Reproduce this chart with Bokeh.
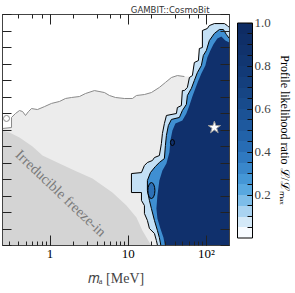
import numpy as np
from bokeh.plotting import figure
from bokeh.models import (Range1d, LogAxis, LinearAxis, FixedTicker, ColorBar,
                          LinearColorMapper, Title, Label, LogTicker, PrintfTickFormatter)
from bokeh.embed import file_html
from bokeh.resources import INLINE

# ---------------- data (x in log10(m_a/MeV), y in plot units) ----------------
# boundary of the excluded (light grey) region
excl_logm = [-0.62, -0.607, -0.492, -0.492, -0.441, -0.390, -0.351, -0.313, -0.275, -0.236,
             -0.160, -0.070, 0.019, 0.121, 0.198, 0.275, 0.377, 0.453, 0.568, 0.696,
             0.760, 0.837, 0.951, 1.054, 1.105, 1.207, 1.296, 1.398, 1.475, 1.552,
             1.628, 1.718]
excl_y = [7.09, 7.09, 7.15, 7.76, 8.00, 8.18, 8.12, 7.88, 8.12, 8.30,
          8.24, 8.42, 8.61, 8.73, 8.91, 8.97, 9.03, 9.21, 9.39, 9.27,
          9.09, 8.97, 8.91, 8.91, 9.09, 9.15, 9.27, 9.58, 9.88, 10.18,
          10.30, 10.24]

# irreducible freeze-in region boundary
fi_logm = [-0.62, -0.517, -0.390, -0.223, -0.096, 0.121, 0.313, 0.543, 0.798, 0.977,
           1.105, 1.181, 1.271, 1.296]
fi_y = [6.97, 6.85, 6.55, 6.00, 5.45, 4.97, 4.55, 4.06, 3.21, 2.42,
        1.70, 0.91, 0.18, 0.00]

# profile-likelihood contours (outer, inner, core)
outer_logm = [1.398, 1.360, 1.335, 1.271, 1.245, 1.207, 1.207, 1.169, 1.169, 1.041,
              1.041, 1.169, 1.207, 1.245, 1.309, 1.335, 1.398, 1.424, 1.437, 1.462,
              1.488, 1.616, 1.628, 1.679, 1.692, 1.718, 1.756, 1.782, 1.820, 1.845,
              1.897, 1.909, 1.948, 1.948, 2.011, 2.037, 2.101, 2.229, 2.267, 2.292,
              2.33, 2.33]
outer_y = [-0.5, 0.30, 0.73, 1.03, 1.52, 1.94, 2.42, 2.73, 3.21, 3.21,
           4.36, 4.42, 4.85, 5.03, 5.15, 5.33, 5.45, 6.18, 6.79, 7.39,
           7.88, 8.00, 8.36, 8.48, 9.39, 9.39, 9.58, 10.18, 10.30, 11.09,
           11.21, 11.94, 12.00, 13.03, 13.15, 13.33, 13.45, 13.45, 13.33, 13.21,
           13.15, -0.5]

inner_logm = [1.437, 1.398, 1.373, 1.335, 1.296, 1.271, 1.245, 1.245, 1.284, 1.347,
              1.398, 1.462, 1.475, 1.488, 1.513, 1.552, 1.654, 1.692, 1.743, 1.756,
              1.807, 1.845, 1.884, 1.935, 1.960, 1.999, 2.037, 2.101, 2.165, 2.216,
              2.254, 2.292, 2.33, 2.33]
inner_y = [-0.5, 0.48, 0.91, 1.52, 2.24, 2.73, 3.33, 3.94, 4.42, 4.79,
           5.03, 5.27, 6.06, 6.67, 7.27, 7.64, 7.76, 8.18, 8.55, 9.09,
           9.52, 10.00, 10.48, 10.91, 11.52, 11.82, 12.42, 12.85, 13.09, 13.09,
           12.79, 12.55, 12.50, -0.5]

core_logm = [1.488, 1.450, 1.411, 1.373, 1.360, 1.373, 1.398, 1.437, 1.488, 1.526,
             1.539, 1.565, 1.603, 1.692, 1.743, 1.782, 1.820, 1.858, 1.897, 1.935,
             1.986, 2.011, 2.050, 2.088, 2.139, 2.190, 2.241, 2.292, 2.33, 2.33]
core_y = [-0.5, 0.48, 1.03, 1.64, 2.24, 3.03, 3.94, 4.55, 4.97, 5.64,
          6.36, 6.97, 7.39, 7.58, 8.00, 8.48, 9.03, 9.52, 10.00, 10.42,
          10.91, 11.39, 11.82, 12.18, 12.55, 12.67, 12.42, 12.30, 12.28, -0.5]

# small isolated contours
island_logm = [1.565]
island_y = [6.24]
blob_logm = [1.296]
blob_y = [3.33]
loop_logm = [-0.556]
loop_y = [7.70]

# best-fit point
best_logm = [2.101]
best_y = [7.15]

y_ticks = list(range(0, 15))
cb_ticks = [0.2, 0.4, 0.6, 0.8, 1.0]
cb_minor = [round(0.05 * i, 2) for i in range(1, 20)]
palette = ["#f7fbff", "#d4e9f8", "#a9d3f1", "#7dbde9", "#58a8e0", "#4597d6", "#3987cb",
           "#2f79c0", "#276cb4", "#2262a8", "#1e599e", "#1b5295", "#184b8c", "#164584",
           "#143f7d", "#123a77", "#113671", "#10326c", "#0f2f68", "#0e2c64"]

def m(v):
    return [10 ** a for a in v]

SERIF = "Liberation Serif"

p = figure(frame_width=227, frame_height=231, x_axis_type="log",
           x_range=Range1d(0.247, 197), y_range=Range1d(0, 14),
           output_backend="svg", toolbar_location=None,
           min_border_left=3, min_border_top=14, min_border_right=0, min_border_bottom=0)
p.margin = (0, 0, 0, -1)
p.grid.visible = False
p.background_fill_color = "white"
p.outline_line_color = "#444444"

# excluded region
p.patch(m(excl_logm + [1.845, 1.845, -0.62]), excl_y + [10.24, -0.5, -0.5],
        fill_color="#ececec", line_color=None)
p.patch(m(fi_logm + [-0.62]), fi_y + [-0.5], fill_color="#d4d4d4", line_color=None)
p.line(m(excl_logm[1:]), excl_y[1:], line_color="#8a8a8a", line_width=1)
p.scatter(m(loop_logm), loop_y, marker="circle", size=6, fill_color=None,
          line_color="#8a8a8a", line_width=1)

# likelihood contours
p.patch(m(outer_logm), outer_y, fill_color="#c4e0f5", line_color="black", line_width=1)
p.patch(m(inner_logm), inner_y, fill_color="#3f8fd2", line_color="black", line_width=1)
p.patch(m(core_logm), core_y, fill_color="#10306c", line_color=None)
p.ellipse(m(blob_logm), blob_y, width=7, height=16, width_units="screen", height_units="screen",
          fill_color="#2d70b6", line_color="black", line_width=1)
p.ellipse(m(island_logm), island_y, width=4, height=6, width_units="screen", height_units="screen",
          fill_color=None, line_color="black", line_width=1)
p.scatter(m(best_logm), best_y, marker="star", size=13, fill_color="white",
          line_color="#9a9a9a", line_width=1)

p.add_layout(Label(x=10 ** 0.140, y=3.18, text="Irreducible freeze-in", angle=-0.76,
                   text_align="center", text_baseline="middle", text_font=SERIF,
                   text_font_size="14.5px", text_color="#7a7a7a"))

# axes
def style_axis(ax, labels=True):
    ax.major_tick_in = 9
    ax.major_tick_out = 0
    ax.minor_tick_in = 4
    ax.minor_tick_out = 0
    ax.axis_line_color = "#444444"
    ax.major_tick_line_color = "#222222"
    ax.minor_tick_line_color = "#222222"
    if not labels:
        ax.major_label_text_font_size = "2px"
        ax.major_label_text_alpha = 0
        ax.major_label_standoff = 0

xb = p.xaxis[0]
style_axis(xb)
xb.major_tick_in = 10
xb.major_label_overrides = {1: "1", 10: "10", 100: "10²"}
xb.major_label_text_font = SERIF
xb.major_label_text_font_size = "13px"
xb.major_label_text_color = "black"
xb.major_label_standoff = 0
xb.axis_label = "𝑚ₐ [MeV]"
xb.axis_label_text_font = SERIF
xb.axis_label_text_font_size = "14px"
xb.axis_label_text_font_style = "normal"
xb.axis_label_standoff = 7

yl = p.yaxis[0]
yl.ticker = FixedTicker(ticks=y_ticks)
style_axis(yl, labels=False)

xt = LogAxis(ticker=LogTicker())
style_axis(xt, labels=False)
xt.major_tick_in = 10
p.add_layout(xt, "above")

yr = LinearAxis(ticker=FixedTicker(ticks=y_ticks))
style_axis(yr, labels=False)
yr.axis_label = " "
yr.axis_label_text_font_size = "4px"
yr.axis_label_standoff = 0
p.add_layout(yr, "right")

mapper = LinearColorMapper(palette=palette, low=0, high=1)
cb = ColorBar(color_mapper=mapper, width=15, height=215, margin=8, padding=0,
              location="center_left",
              ticker=FixedTicker(ticks=cb_ticks, minor_ticks=cb_minor),
              formatter=PrintfTickFormatter(format="%.1f"),
              major_tick_in=5, major_tick_out=0, minor_tick_in=5, minor_tick_out=0,
              major_tick_line_color="#111111", minor_tick_line_color="#111111",
              bar_line_color="black", bar_line_width=1,
              label_standoff=2, major_label_text_font=SERIF,
              major_label_text_font_size="13px", background_fill_alpha=0,
              border_line_color=None)
p.add_layout(cb, "right")

p.add_layout(Title(text="Profile likelihood ratio ℒ/ℒₘₐₓ", align="center",
                   text_font=SERIF, text_font_size="12px", text_font_style="normal",
                   text_color="black", standoff=8), "right")

p.title.text = "GAMBIT::CosmoBit"
p.title.align = "right"
p.title.text_font = "DejaVu Sans"
p.title.text_font_size = "8.5px"
p.title.text_font_style = "normal"
p.title.text_color = "#333333"
p.title.standoff = 0
p.title.offset = 20

open("out.html", "w").write(file_html(p, INLINE))
